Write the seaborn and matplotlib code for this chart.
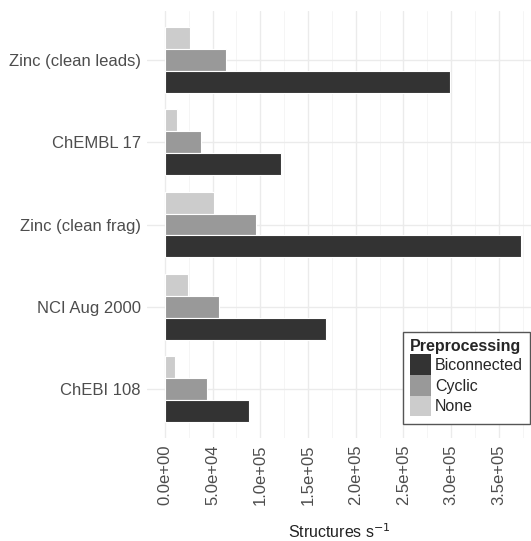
import pandas as pd
import numpy as np
import matplotlib
matplotlib.use("Agg")
import matplotlib.pyplot as plt
from matplotlib.patches import Patch
from matplotlib.ticker import MultipleLocator, FuncFormatter
import seaborn as sns

# data (structures per second)
databases = ["Zinc (clean leads)", "ChEMBL 17", "Zinc (clean frag)", "NCI Aug 2000", "ChEBI 108"]
biconnected = [298700, 121600, 373200, 168800, 88000]
cyclic = [63900, 37700, 95400, 56600, 44000]
none = [26200, 12600, 51400, 24100, 10500]

methods = ["Biconnected", "Cyclic", "None"]
colors = {"Biconnected": "#333333", "Cyclic": "#999999", "None": "#CCCCCC"}

df = pd.DataFrame({
    "database": databases * 3,
    "rate": biconnected + cyclic + none,
    "method": ["Biconnected"] * 5 + ["Cyclic"] * 5 + ["None"] * 5,
})

sns.set_style("white")
plt.rcParams["font.family"] = ["Liberation Sans", "DejaVu Sans"]

fig = plt.figure(figsize=(5.31, 5.41), dpi=100)
ax = fig.add_axes([147 / 531, 1 - 438.4 / 541, (531 - 147) / 531, 427.8 / 541])

sns.barplot(data=df, y="database", x="rate", hue="method", order=databases,
            hue_order=["None", "Cyclic", "Biconnected"], palette=colors,
            orient="h", width=0.8, saturation=1, edgecolor="white", linewidth=0.8,
            legend=False, ax=ax)

ax.set_xlim(-18660, 383650)
ax.set_ylim(len(databases) - 0.4, -0.6)

ax.xaxis.set_major_locator(MultipleLocator(5e4))
ax.xaxis.set_minor_locator(MultipleLocator(2.5e4))
ax.xaxis.set_major_formatter(FuncFormatter(lambda v, p: f"{v:.1e}"))
ax.set_axisbelow(True)
ax.grid(which="major", axis="both", color="#EBEBEB", lw=1.0)
ax.grid(which="minor", axis="x", color="#F4F4F4", lw=0.6)
for s in ax.spines.values():
    s.set_visible(False)

ax.tick_params(axis="both", which="major", length=3, width=0.8, color="#333333",
               labelsize=12, labelcolor="#4D4D4D", pad=1.5)
ax.tick_params(axis="both", which="minor", length=0)
plt.setp(ax.get_xticklabels(), rotation=90)

ax.set_ylabel("")
ax.set_xlabel("Structures s$^{-1}$", fontsize=11.5, color="#222222", labelpad=12)

handles = [Patch(facecolor=colors[m], edgecolor="none", label=m) for m in methods]
leg = fig.legend(handles=handles, title="Preprocessing", loc="upper left",
                 bbox_to_anchor=(403 / 531, 1 - 332 / 541), borderaxespad=0,
                 fontsize=11.5, title_fontproperties={"weight": "bold", "size": 11.5},
                 handleheight=1.62, handlelength=1.3, labelspacing=0,
                 handletextpad=0.25, borderpad=0.45, fancybox=False,
                 framealpha=1, edgecolor="#555555", alignment="left")
leg.get_frame().set_linewidth(1.0)

fig.savefig("out.png", dpi=100)
